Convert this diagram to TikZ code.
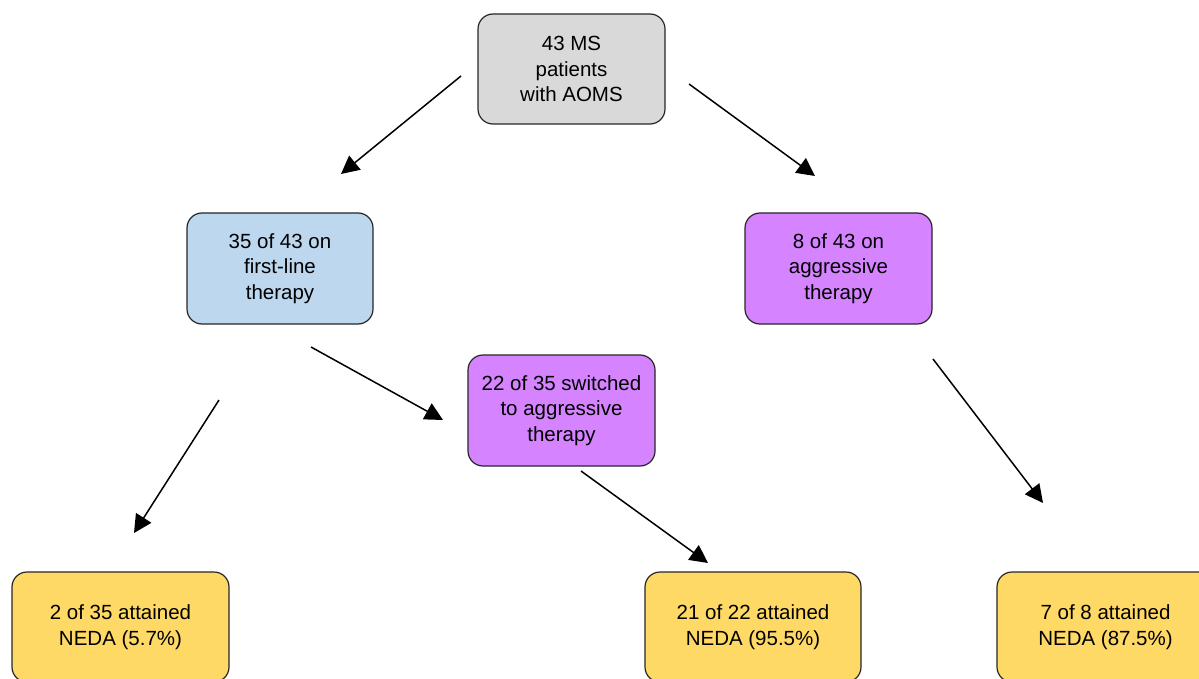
\documentclass[tikz,border=0pt]{standalone}
\usepackage{fontspec}
\setmainfont{Liberation Sans}
\usetikzlibrary{arrows.meta}
\definecolor{boxgray}{RGB}{217,217,217}
\definecolor{boxblue}{RGB}{189,215,238}
\definecolor{boxpurple}{RGB}{213,131,255}
\definecolor{boxyellow}{RGB}{255,217,102}
\tikzset{
  flowbox/.style={draw=black!85, line width=1.2pt, rounded corners=15pt, align=center,
    inner sep=0pt, minimum height=110pt, font=\fontsize{20.5}{25.5}\selectfont},
  flowarrow/.style={line width=1.5pt, -{Triangle[length=18pt,width=18pt]}}
}
\begin{document}
\begin{tikzpicture}[x=1pt,y=-1pt]
\useasboundingbox (0,0) rectangle (1199,679);
\clip (0,0) rectangle (1199,679);
\node[flowbox, fill=boxgray, minimum width=187pt] (top) at (571.5,69) {43 MS\\patients\\with AOMS};
\node[flowbox, fill=boxblue, minimum width=186pt, minimum height=111pt] (first) at (280,268.5) {35 of 43 on\\first-line\\therapy};
\node[flowbox, fill=boxpurple, minimum width=187pt, minimum height=111pt] (aggr) at (838.5,268.5) {8 of 43 on\\aggressive\\therapy};
\node[flowbox, fill=boxpurple, minimum width=187pt, minimum height=111pt] (switch) at (561.5,410.5) {22 of 35 switched\\to aggressive\\therapy};
\node[flowbox, fill=boxyellow, minimum width=217pt] (resL) at (120.5,627) {2 of 35 attained\\NEDA (5.7\%)};
\node[flowbox, fill=boxyellow, minimum width=216pt] (resM) at (753,627) {21 of 22 attained\\NEDA (95.5\%)};
\node[flowbox, fill=boxyellow, minimum width=217pt] (resR) at (1105.5,627) {7 of 8 attained\\NEDA (87.5\%)};
\coordinate (a1s) at (461,76);  \coordinate (a1e) at (341,174);
\coordinate (a2s) at (689,84);  \coordinate (a2e) at (815,176);
\coordinate (a3s) at (311,347); \coordinate (a3e) at (443,420);
\coordinate (a4s) at (219,400); \coordinate (a4e) at (134,533);
\coordinate (a5s) at (581,471); \coordinate (a5e) at (708,563);
\coordinate (a6s) at (933,359); \coordinate (a6e) at (1043,503);
\draw[flowarrow] (a1s) -- (a1e);
\draw[flowarrow] (a2s) -- (a2e);
\draw[flowarrow] (a3s) -- (a3e);
\draw[flowarrow] (a4s) -- (a4e);
\draw[flowarrow] (a5s) -- (a5e);
\draw[flowarrow] (a6s) -- (a6e);
\end{tikzpicture}
\end{document}
